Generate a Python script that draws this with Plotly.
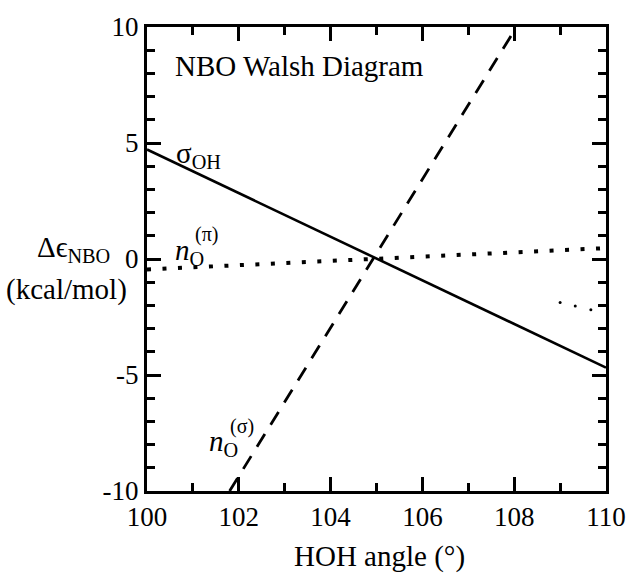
import plotly.graph_objects as go

# ---- data ----
angle_range = [100, 110]
sigma_OH = [4.72, -4.68]          # solid line
n_pi = [-0.45, 0.47]              # dotted line
n_sigma_angle = [101.8, 108.05]   # dashed line
n_sigma = [-10, 10]
stray_angle = [109.0, 109.33, 109.67]
stray_val = [-1.88, -2.03, -2.19]

x_ticks = [100, 102, 104, 106, 108, 110]
x_tick_labels = ["100", "102", "104", "106", "108", "110"]
y_ticks = [-10, -5, 0, 5, 10]
y_tick_labels = ["-10", "-5", "0", "5", "10"]

SERIF = "Liberation Serif"
BLACK = "#000000"

fig = go.Figure()
fig.add_trace(go.Scatter(x=angle_range, y=sigma_OH, mode="lines",
                         line=dict(color=BLACK, width=2.6), hoverinfo="skip"))
fig.add_trace(go.Scatter(x=angle_range, y=n_pi, mode="lines",
                         line=dict(color=BLACK, width=4, dash="4px,11.5px"), hoverinfo="skip"))
fig.add_trace(go.Scatter(x=n_sigma_angle, y=n_sigma, mode="lines",
                         line=dict(color=BLACK, width=2.8, dash="15px,11px"), hoverinfo="skip"))
fig.add_trace(go.Scatter(x=stray_angle, y=stray_val, mode="markers",
                         marker=dict(color=BLACK, size=3), hoverinfo="skip"))

axis_common = dict(
    showline=True, linecolor=BLACK, linewidth=3, mirror="ticks",
    ticks="inside", ticklen=14, tickwidth=2.5, tickcolor=BLACK,
    showgrid=False, zeroline=False,
    tickfont=dict(family=SERIF, size=27, color=BLACK),
)

fig.update_xaxes(range=angle_range, tickvals=x_ticks, ticktext=x_tick_labels,
                 minor=dict(dtick=1, ticks="inside", ticklen=8, tickwidth=2.5, tickcolor=BLACK),
                 **axis_common)
fig.update_yaxes(range=[-10, 10], tickvals=y_ticks, ticktext=y_tick_labels,
                 minor=dict(dtick=1, ticks="inside", ticklen=8, tickwidth=2.5, tickcolor=BLACK),
                 **axis_common)

def txt(text, x, y, size=28, xanchor="left", yanchor="middle"):
    fig.add_annotation(text=text, x=x, y=y, xref="paper", yref="paper",
                       xanchor=xanchor, yanchor=yanchor, showarrow=False,
                       font=dict(family=SERIF, size=size, color=BLACK))

W, H = 638, 574
L, R, T, B = 147, 27, 24, 83
pw, ph = W - L - R, H - T - B

def px(xp):
    return (xp - L) / pw

def py(yp):
    return 1 - (yp - T) / ph

txt("NBO Walsh Diagram", px(173), py(63), size=29)
txt("σ<sub>OH</sub>", px(174), py(153), size=29)
txt("<i>n</i><sub>O</sub>", px(173), py(250), size=29)
txt("(π)", px(194), py(233), size=20)
txt("<i>n</i><sub>O</sub>", px(208), py(443), size=29)
txt("(σ)", px(229), py(426), size=20)
txt("Δϵ<sub>NBO</sub>", px(112), py(247), size=29, xanchor="right")
txt("(kcal/mol)", px(129), py(288), size=29, xanchor="right")
txt("HOH angle (°)", px(382), py(557), size=29, xanchor="center")

fig.update_layout(
    width=W, height=H,
    margin=dict(l=L, r=R, t=T, b=B),
    paper_bgcolor="white", plot_bgcolor="white",
    showlegend=False,
)

fig.write_html("out.html")
